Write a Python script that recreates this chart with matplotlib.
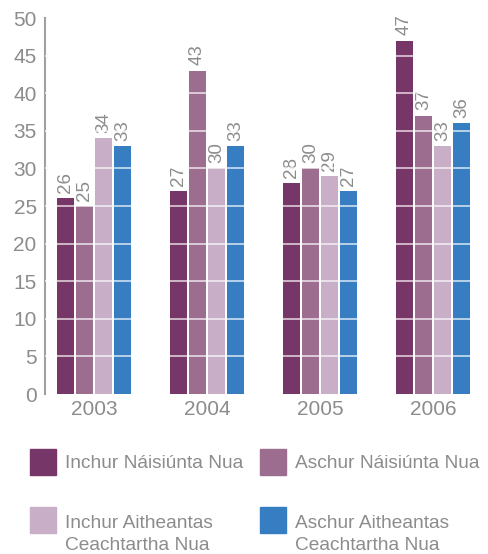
import numpy as np
import matplotlib.pyplot as plt
from matplotlib.patches import Rectangle

plt.rcParams['font.family'] = ['Liberation Sans', 'DejaVu Sans']

years = ['2003', '2004', '2005', '2006']
inchur_naisiunta = [26, 27, 28, 47]
aschur_naisiunta = [25, 43, 30, 37]
inchur_aitheantas = [34, 30, 29, 33]
aschur_aitheantas = [33, 33, 27, 36]

series = [inchur_naisiunta, aschur_naisiunta, inchur_aitheantas, aschur_aitheantas]
labels = ['Inchur Náisiúnta Nua', 'Aschur Náisiúnta Nua',
          'Inchur Aitheantas\nCeachtartha Nua', 'Aschur Aitheantas\nCeachtartha Nua']
colors = ['#763668', '#9c6d8f', '#c8aec6', '#367ec1']
grey = '#8c8c8c'

fig = plt.figure(figsize=(4.88, 5.54), dpi=100)
ax = fig.add_axes([45 / 488, 160 / 554, 437 / 488, 376 / 554])

x = np.arange(len(years))
w = 17 / 113
step = 19 / 113
for i, vals in enumerate(series):
    pos = x + (i - 1.5) * step
    ax.bar(pos, vals, width=w, color=colors[i], zorder=2)
    for p, v in zip(pos, vals):
        ax.text(p, v + 0.7, str(v), rotation=90, ha='center', va='bottom',
                color=grey, fontsize=13.5)

for yv in range(5, 50, 5):
    ax.axhline(yv, color='white', lw=1.2, alpha=0.75, zorder=3)

ax.set_xlim(-0.434, 3.434)
ax.set_ylim(0, 50)
ax.set_yticks(range(0, 51, 5))
ax.set_xticks(x)
ax.set_xticklabels(years)
ax.tick_params(axis='y', length=0, labelsize=15, colors=grey, pad=6)
ax.tick_params(axis='x', length=0, labelsize=15, colors=grey, pad=4)
for s in ['top', 'right', 'bottom']:
    ax.spines[s].set_visible(False)
ax.spines['left'].set_color('#a0a0a0')
ax.spines['left'].set_linewidth(1.5)

# legend drawn by hand: square top-left and last-line baseline in pixels
legend_pos = [(30, 449, 468), (260, 449, 468), (30, 507, 550), (260, 507, 550)]
for (lx, ly, base), c, lab in zip(legend_pos, colors, labels):
    fig.add_artist(Rectangle((lx / 488, 1 - (ly + 26) / 554), 26 / 488, 26 / 554,
                             transform=fig.transFigure, color=c))
    fig.text((lx + 35) / 488, 1 - base / 554, lab, ha='left', va='baseline',
             color=grey, fontsize=13.8, linespacing=1.38)

fig.savefig('out.png', dpi=100)
